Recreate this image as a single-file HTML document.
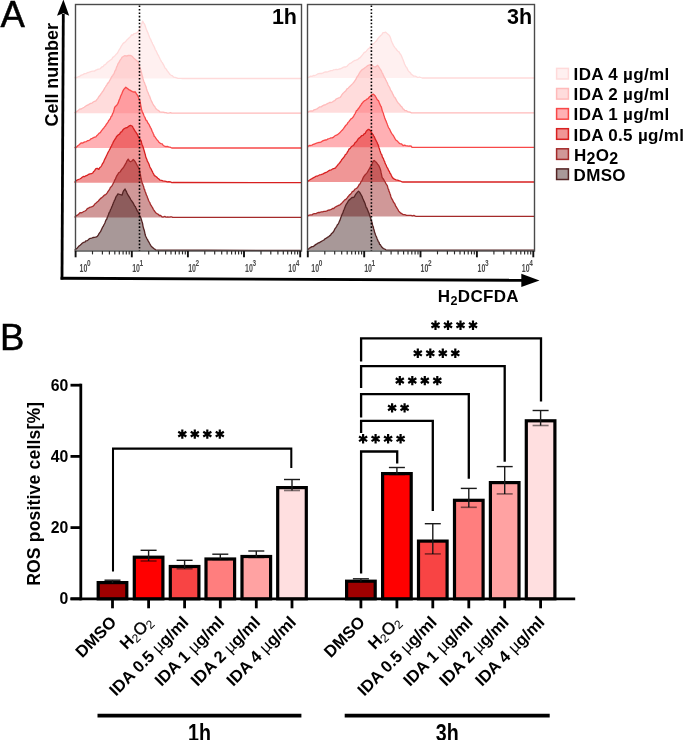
<!DOCTYPE html>
<html><head><meta charset="utf-8"><style>
html,body{margin:0;padding:0;background:#fff;}
body{width:685px;height:740px;overflow:hidden;font-family:"Liberation Sans",sans-serif;}
svg{display:block;filter:blur(0.3px);}
</style></head><body>
<svg width="685" height="740" viewBox="0 0 685 740">
<rect width="685" height="740" fill="#fff"/>
<path d="M75.5,78.5 L75.0,77.4 L77.0,77.5 L78.2,76.7 L79.5,76.5 L80.8,75.3 L82.0,75.0 L83.3,74.4 L84.6,73.6 L86.0,73.6 L87.3,72.7 L88.6,72.5 L90.1,71.8 L91.5,71.4 L93.0,71.2 L94.4,71.1 L95.9,70.1 L97.3,69.5 L98.6,69.2 L100.0,68.9 L101.1,67.8 L102.1,66.8 L103.2,66.5 L104.3,64.8 L105.4,64.7 L106.5,63.3 L107.8,62.1 L109.2,61.0 L110.5,60.0 L111.7,59.3 L112.8,57.4 L114.0,56.6 L115.0,55.7 L115.9,54.6 L116.8,53.8 L117.8,52.5 L118.5,51.0 L119.3,49.7 L120.0,48.7 L120.7,47.3 L121.3,46.1 L122.0,45.2 L122.7,44.0 L123.8,42.8 L124.8,42.3 L125.9,41.2 L127.0,39.8 L127.9,39.1 L128.8,38.1 L129.7,37.4 L130.6,36.3 L131.5,34.9 L132.8,35.0 L134.0,33.7 L135.3,33.4 L136.9,32.8 L138.5,31.3 L139.2,30.1 L139.8,28.1 L140.5,27.2 L141.0,25.8 L141.6,24.3 L142.1,23.1 L142.6,21.2 L143.6,22.9 L144.5,24.1 L145.0,25.3 L145.4,26.5 L145.9,28.1 L146.4,29.5 L146.8,30.3 L147.3,31.7 L147.8,32.5 L148.4,34.3 L148.9,35.6 L149.5,37.2 L150.0,38.3 L150.5,39.0 L151.0,40.3 L151.6,41.8 L152.1,42.4 L152.6,44.0 L153.3,45.1 L154.0,46.5 L154.6,47.8 L155.3,49.8 L156.0,50.7 L156.6,51.9 L157.2,53.2 L157.8,54.8 L158.4,55.3 L159.0,56.8 L159.6,58.0 L160.3,59.5 L161.0,60.7 L161.6,61.9 L162.3,62.6 L163.0,63.9 L163.7,65.1 L164.5,66.9 L165.2,68.2 L166.0,68.7 L166.7,70.0 L167.5,71.1 L168.3,72.1 L169.2,73.4 L170.0,74.5 L171.2,75.2 L172.5,75.9 L173.7,77.2 L175.1,77.4 L176.6,77.8 L178.0,78.4 L179.5,78.3 L181.0,78.3 L182.5,78.5 L301.5,78.5 Z" fill="rgb(255,219,219)" fill-opacity="0.42" stroke="none"/>
<path d="M75.5,78.5 L75.0,77.4 L77.0,77.5 L78.2,76.7 L79.5,76.5 L80.8,75.3 L82.0,75.0 L83.3,74.4 L84.6,73.6 L86.0,73.6 L87.3,72.7 L88.6,72.5 L90.1,71.8 L91.5,71.4 L93.0,71.2 L94.4,71.1 L95.9,70.1 L97.3,69.5 L98.6,69.2 L100.0,68.9 L101.1,67.8 L102.1,66.8 L103.2,66.5 L104.3,64.8 L105.4,64.7 L106.5,63.3 L107.8,62.1 L109.2,61.0 L110.5,60.0 L111.7,59.3 L112.8,57.4 L114.0,56.6 L115.0,55.7 L115.9,54.6 L116.8,53.8 L117.8,52.5 L118.5,51.0 L119.3,49.7 L120.0,48.7 L120.7,47.3 L121.3,46.1 L122.0,45.2 L122.7,44.0 L123.8,42.8 L124.8,42.3 L125.9,41.2 L127.0,39.8 L127.9,39.1 L128.8,38.1 L129.7,37.4 L130.6,36.3 L131.5,34.9 L132.8,35.0 L134.0,33.7 L135.3,33.4 L136.9,32.8 L138.5,31.3 L139.2,30.1 L139.8,28.1 L140.5,27.2 L141.0,25.8 L141.6,24.3 L142.1,23.1 L142.6,21.2 L143.6,22.9 L144.5,24.1 L145.0,25.3 L145.4,26.5 L145.9,28.1 L146.4,29.5 L146.8,30.3 L147.3,31.7 L147.8,32.5 L148.4,34.3 L148.9,35.6 L149.5,37.2 L150.0,38.3 L150.5,39.0 L151.0,40.3 L151.6,41.8 L152.1,42.4 L152.6,44.0 L153.3,45.1 L154.0,46.5 L154.6,47.8 L155.3,49.8 L156.0,50.7 L156.6,51.9 L157.2,53.2 L157.8,54.8 L158.4,55.3 L159.0,56.8 L159.6,58.0 L160.3,59.5 L161.0,60.7 L161.6,61.9 L162.3,62.6 L163.0,63.9 L163.7,65.1 L164.5,66.9 L165.2,68.2 L166.0,68.7 L166.7,70.0 L167.5,71.1 L168.3,72.1 L169.2,73.4 L170.0,74.5 L171.2,75.2 L172.5,75.9 L173.7,77.2 L175.1,77.4 L176.6,77.8 L178.0,78.4 L179.5,78.3 L181.0,78.3 L182.5,78.5 L301.5,78.5" fill="none" stroke="#ffdada" stroke-width="1.3" stroke-linejoin="round"/>
<path d="M75.5,113.2 L75.0,112.6 L76.9,111.4 L78.2,110.6 L79.5,109.1 L81.2,109.0 L82.8,108.0 L84.2,107.2 L85.5,106.3 L87.0,105.3 L88.6,104.6 L90.3,103.5 L92.0,103.1 L93.3,102.0 L94.6,101.3 L95.9,100.8 L96.8,99.6 L97.7,98.6 L98.5,97.2 L99.4,96.0 L100.3,95.0 L101.0,93.8 L101.8,92.9 L102.5,91.4 L103.2,91.0 L103.9,89.6 L104.7,88.0 L105.4,87.0 L106.1,85.9 L106.9,84.8 L107.6,83.4 L108.3,82.9 L109.0,81.9 L109.8,80.3 L110.5,79.2 L111.2,77.7 L111.9,76.5 L112.7,75.6 L113.4,74.3 L114.1,73.7 L114.6,71.8 L115.2,70.5 L115.7,70.0 L116.2,68.4 L116.7,66.8 L117.3,65.9 L117.8,64.2 L118.5,63.1 L119.3,62.0 L120.0,60.3 L121.1,58.8 L122.2,57.1 L123.3,56.5 L124.5,55.7 L126.6,56.0 L128.4,55.5 L130.2,55.4 L131.4,55.9 L132.7,56.8 L133.9,58.3 L136.0,59.9 L137.1,60.9 L138.2,62.0 L138.6,63.3 L138.9,64.5 L139.3,65.3 L139.7,66.8 L140.1,67.9 L140.4,68.9 L140.8,70.2 L141.2,71.7 L141.6,73.0 L141.9,74.6 L142.3,76.1 L142.6,77.0 L143.0,78.7 L143.4,80.0 L143.7,81.2 L144.1,82.0 L144.6,83.1 L145.1,84.5 L145.6,85.7 L146.1,87.0 L146.5,88.7 L147.0,90.3 L147.5,91.5 L148.0,92.5 L148.5,93.9 L149.0,95.3 L149.6,96.0 L150.1,97.8 L150.7,99.3 L151.2,100.4 L151.7,101.7 L152.3,102.7 L152.8,103.7 L153.7,105.4 L154.6,106.2 L155.4,107.8 L156.3,109.1 L157.2,109.8 L158.6,110.6 L160.0,111.9 L161.5,112.1 L163.0,112.1 L164.5,112.5 L166.0,112.6 L167.4,113.2 L168.9,113.2 L170.4,112.7 L171.8,113.2 L173.3,113.2 L301.5,113.2 Z" fill="rgb(255,172,172)" fill-opacity="0.42" stroke="none"/>
<path d="M75.5,113.2 L75.0,112.6 L76.9,111.4 L78.2,110.6 L79.5,109.1 L81.2,109.0 L82.8,108.0 L84.2,107.2 L85.5,106.3 L87.0,105.3 L88.6,104.6 L90.3,103.5 L92.0,103.1 L93.3,102.0 L94.6,101.3 L95.9,100.8 L96.8,99.6 L97.7,98.6 L98.5,97.2 L99.4,96.0 L100.3,95.0 L101.0,93.8 L101.8,92.9 L102.5,91.4 L103.2,91.0 L103.9,89.6 L104.7,88.0 L105.4,87.0 L106.1,85.9 L106.9,84.8 L107.6,83.4 L108.3,82.9 L109.0,81.9 L109.8,80.3 L110.5,79.2 L111.2,77.7 L111.9,76.5 L112.7,75.6 L113.4,74.3 L114.1,73.7 L114.6,71.8 L115.2,70.5 L115.7,70.0 L116.2,68.4 L116.7,66.8 L117.3,65.9 L117.8,64.2 L118.5,63.1 L119.3,62.0 L120.0,60.3 L121.1,58.8 L122.2,57.1 L123.3,56.5 L124.5,55.7 L126.6,56.0 L128.4,55.5 L130.2,55.4 L131.4,55.9 L132.7,56.8 L133.9,58.3 L136.0,59.9 L137.1,60.9 L138.2,62.0 L138.6,63.3 L138.9,64.5 L139.3,65.3 L139.7,66.8 L140.1,67.9 L140.4,68.9 L140.8,70.2 L141.2,71.7 L141.6,73.0 L141.9,74.6 L142.3,76.1 L142.6,77.0 L143.0,78.7 L143.4,80.0 L143.7,81.2 L144.1,82.0 L144.6,83.1 L145.1,84.5 L145.6,85.7 L146.1,87.0 L146.5,88.7 L147.0,90.3 L147.5,91.5 L148.0,92.5 L148.5,93.9 L149.0,95.3 L149.6,96.0 L150.1,97.8 L150.7,99.3 L151.2,100.4 L151.7,101.7 L152.3,102.7 L152.8,103.7 L153.7,105.4 L154.6,106.2 L155.4,107.8 L156.3,109.1 L157.2,109.8 L158.6,110.6 L160.0,111.9 L161.5,112.1 L163.0,112.1 L164.5,112.5 L166.0,112.6 L167.4,113.2 L168.9,113.2 L170.4,112.7 L171.8,113.2 L173.3,113.2 L301.5,113.2" fill="none" stroke="#ffbaba" stroke-width="1.3" stroke-linejoin="round"/>
<path d="M75.5,148.0 L75.0,147.5 L76.0,147.6 L77.1,146.5 L78.1,145.5 L79.2,144.8 L80.2,143.7 L81.3,142.8 L82.5,143.1 L83.7,142.4 L84.9,141.8 L86.2,141.7 L87.4,140.7 L88.6,140.6 L89.8,140.0 L91.0,138.8 L92.2,138.3 L93.5,137.7 L94.7,137.1 L95.9,136.8 L97.0,135.4 L98.1,134.4 L99.2,133.1 L100.3,132.7 L101.2,131.1 L102.0,130.1 L102.8,129.1 L103.7,128.3 L104.6,126.7 L105.4,126.1 L106.2,124.5 L107.1,123.3 L108.0,122.1 L108.8,120.4 L109.7,119.6 L110.5,118.1 L111.1,116.6 L111.8,116.0 L112.4,114.1 L113.0,113.0 L113.5,111.7 L114.0,110.0 L114.4,108.3 L114.9,106.9 L115.9,106.0 L116.8,105.2 L117.8,103.6 L118.3,102.6 L118.9,100.8 L119.5,99.3 L120.0,98.2 L120.5,96.6 L121.1,95.2 L121.7,94.0 L122.2,92.7 L123.1,90.6 L124.0,89.1 L125.8,87.2 L127.5,88.5 L128.7,89.6 L129.9,90.1 L131.2,90.9 L132.4,91.6 L133.9,92.0 L135.3,91.8 L136.0,93.2 L136.8,94.5 L137.5,95.2 L138.2,96.8 L138.8,98.5 L139.4,99.9 L140.0,100.7 L140.2,102.1 L140.5,103.9 L140.7,105.1 L141.0,106.7 L141.2,108.0 L141.7,110.0 L142.2,111.5 L142.8,113.0 L143.3,113.7 L143.9,115.4 L144.4,116.5 L144.9,117.3 L145.5,119.1 L146.2,120.4 L147.0,120.9 L147.7,122.8 L148.4,123.5 L149.2,124.8 L149.9,126.4 L150.5,127.6 L151.0,128.3 L151.6,129.8 L152.1,131.2 L152.7,132.3 L153.2,133.5 L153.8,134.8 L154.3,136.5 L155.2,137.0 L156.1,138.7 L156.9,139.7 L157.8,140.5 L158.7,141.9 L159.9,143.0 L161.0,143.6 L162.2,143.9 L163.3,145.5 L164.5,146.1 L165.9,146.7 L167.2,146.3 L168.6,146.9 L170.0,147.2 L171.7,148.0 L173.3,148.0 L301.5,148.0 Z" fill="rgb(255,67,76)" fill-opacity="0.42" stroke="none"/>
<path d="M75.5,148.0 L75.0,147.5 L76.0,147.6 L77.1,146.5 L78.1,145.5 L79.2,144.8 L80.2,143.7 L81.3,142.8 L82.5,143.1 L83.7,142.4 L84.9,141.8 L86.2,141.7 L87.4,140.7 L88.6,140.6 L89.8,140.0 L91.0,138.8 L92.2,138.3 L93.5,137.7 L94.7,137.1 L95.9,136.8 L97.0,135.4 L98.1,134.4 L99.2,133.1 L100.3,132.7 L101.2,131.1 L102.0,130.1 L102.8,129.1 L103.7,128.3 L104.6,126.7 L105.4,126.1 L106.2,124.5 L107.1,123.3 L108.0,122.1 L108.8,120.4 L109.7,119.6 L110.5,118.1 L111.1,116.6 L111.8,116.0 L112.4,114.1 L113.0,113.0 L113.5,111.7 L114.0,110.0 L114.4,108.3 L114.9,106.9 L115.9,106.0 L116.8,105.2 L117.8,103.6 L118.3,102.6 L118.9,100.8 L119.5,99.3 L120.0,98.2 L120.5,96.6 L121.1,95.2 L121.7,94.0 L122.2,92.7 L123.1,90.6 L124.0,89.1 L125.8,87.2 L127.5,88.5 L128.7,89.6 L129.9,90.1 L131.2,90.9 L132.4,91.6 L133.9,92.0 L135.3,91.8 L136.0,93.2 L136.8,94.5 L137.5,95.2 L138.2,96.8 L138.8,98.5 L139.4,99.9 L140.0,100.7 L140.2,102.1 L140.5,103.9 L140.7,105.1 L141.0,106.7 L141.2,108.0 L141.7,110.0 L142.2,111.5 L142.8,113.0 L143.3,113.7 L143.9,115.4 L144.4,116.5 L144.9,117.3 L145.5,119.1 L146.2,120.4 L147.0,120.9 L147.7,122.8 L148.4,123.5 L149.2,124.8 L149.9,126.4 L150.5,127.6 L151.0,128.3 L151.6,129.8 L152.1,131.2 L152.7,132.3 L153.2,133.5 L153.8,134.8 L154.3,136.5 L155.2,137.0 L156.1,138.7 L156.9,139.7 L157.8,140.5 L158.7,141.9 L159.9,143.0 L161.0,143.6 L162.2,143.9 L163.3,145.5 L164.5,146.1 L165.9,146.7 L167.2,146.3 L168.6,146.9 L170.0,147.2 L171.7,148.0 L173.3,148.0 L301.5,148.0" fill="none" stroke="#f84848" stroke-width="1.3" stroke-linejoin="round"/>
<path d="M75.5,182.7 L75.0,182.0 L75.5,181.3 L76.9,180.2 L78.4,179.5 L79.8,179.0 L81.0,178.3 L82.2,177.2 L83.3,176.5 L84.5,176.7 L85.7,175.8 L87.1,175.4 L88.6,174.3 L90.0,173.8 L91.5,173.7 L93.0,172.7 L93.7,171.3 L94.5,171.0 L95.2,169.6 L95.9,168.7 L97.3,168.4 L98.8,169.4 L99.8,167.5 L100.7,167.0 L101.7,165.5 L102.3,164.1 L102.9,163.1 L103.6,162.2 L104.2,160.4 L104.8,159.1 L105.4,158.2 L106.0,156.7 L106.6,155.4 L107.2,154.2 L107.8,152.9 L108.4,151.8 L109.0,150.7 L109.6,149.5 L110.2,148.7 L110.8,147.1 L111.5,146.0 L112.1,144.5 L112.7,143.5 L113.4,141.8 L114.1,140.7 L114.9,139.2 L115.6,138.5 L116.3,137.0 L117.4,135.6 L118.5,134.8 L119.6,134.1 L120.7,132.2 L121.6,131.8 L122.6,130.3 L123.5,129.3 L124.4,128.5 L125.8,127.8 L127.3,127.5 L128.4,126.6 L129.5,125.7 L130.9,125.5 L132.4,126.3 L133.1,127.7 L133.9,129.1 L134.6,130.3 L135.3,131.4 L136.0,132.4 L136.8,133.6 L137.5,134.7 L138.2,136.5 L139.1,137.7 L140.0,139.2 L141.2,141.0 L141.6,143.0 L142.0,144.4 L142.5,145.5 L142.9,146.5 L143.3,147.8 L143.7,149.1 L144.1,150.5 L144.4,151.5 L144.8,153.1 L145.2,154.2 L145.6,156.1 L145.9,157.4 L146.3,158.2 L146.8,159.2 L147.3,161.1 L147.8,161.8 L148.4,163.0 L148.9,164.0 L149.4,165.6 L149.9,166.9 L150.5,168.2 L151.2,169.1 L151.8,170.7 L152.4,171.5 L153.0,173.0 L153.7,174.1 L154.3,175.6 L155.5,176.2 L156.6,177.0 L157.8,178.2 L158.9,179.0 L160.1,180.2 L161.6,180.4 L163.0,180.9 L164.5,181.1 L165.9,181.4 L167.4,181.8 L168.9,181.6 L170.4,181.8 L171.8,182.6 L173.3,182.4 L301.5,182.7 Z" fill="rgb(219,5,5)" fill-opacity="0.42" stroke="none"/>
<path d="M75.5,182.7 L75.0,182.0 L75.5,181.3 L76.9,180.2 L78.4,179.5 L79.8,179.0 L81.0,178.3 L82.2,177.2 L83.3,176.5 L84.5,176.7 L85.7,175.8 L87.1,175.4 L88.6,174.3 L90.0,173.8 L91.5,173.7 L93.0,172.7 L93.7,171.3 L94.5,171.0 L95.2,169.6 L95.9,168.7 L97.3,168.4 L98.8,169.4 L99.8,167.5 L100.7,167.0 L101.7,165.5 L102.3,164.1 L102.9,163.1 L103.6,162.2 L104.2,160.4 L104.8,159.1 L105.4,158.2 L106.0,156.7 L106.6,155.4 L107.2,154.2 L107.8,152.9 L108.4,151.8 L109.0,150.7 L109.6,149.5 L110.2,148.7 L110.8,147.1 L111.5,146.0 L112.1,144.5 L112.7,143.5 L113.4,141.8 L114.1,140.7 L114.9,139.2 L115.6,138.5 L116.3,137.0 L117.4,135.6 L118.5,134.8 L119.6,134.1 L120.7,132.2 L121.6,131.8 L122.6,130.3 L123.5,129.3 L124.4,128.5 L125.8,127.8 L127.3,127.5 L128.4,126.6 L129.5,125.7 L130.9,125.5 L132.4,126.3 L133.1,127.7 L133.9,129.1 L134.6,130.3 L135.3,131.4 L136.0,132.4 L136.8,133.6 L137.5,134.7 L138.2,136.5 L139.1,137.7 L140.0,139.2 L141.2,141.0 L141.6,143.0 L142.0,144.4 L142.5,145.5 L142.9,146.5 L143.3,147.8 L143.7,149.1 L144.1,150.5 L144.4,151.5 L144.8,153.1 L145.2,154.2 L145.6,156.1 L145.9,157.4 L146.3,158.2 L146.8,159.2 L147.3,161.1 L147.8,161.8 L148.4,163.0 L148.9,164.0 L149.4,165.6 L149.9,166.9 L150.5,168.2 L151.2,169.1 L151.8,170.7 L152.4,171.5 L153.0,173.0 L153.7,174.1 L154.3,175.6 L155.5,176.2 L156.6,177.0 L157.8,178.2 L158.9,179.0 L160.1,180.2 L161.6,180.4 L163.0,180.9 L164.5,181.1 L165.9,181.4 L167.4,181.8 L168.9,181.6 L170.4,181.8 L171.8,182.6 L173.3,182.4 L301.5,182.7" fill="none" stroke="#d82020" stroke-width="1.3" stroke-linejoin="round"/>
<path d="M75.5,217.4 L75.0,217.0 L76.2,215.7 L77.5,215.2 L78.8,214.1 L80.0,212.6 L81.2,212.8 L82.5,212.3 L83.8,211.5 L85.0,211.0 L86.2,210.2 L87.3,208.7 L88.5,208.2 L89.7,207.3 L91.5,206.9 L93.2,206.1 L94.2,205.0 L95.1,203.7 L96.1,203.0 L97.2,201.9 L98.4,201.0 L99.4,199.7 L100.4,198.6 L101.4,197.9 L102.8,196.8 L104.3,195.2 L105.7,194.6 L107.0,193.1 L107.7,192.0 L108.5,190.9 L109.2,189.9 L109.9,188.6 L110.6,187.1 L111.3,186.7 L112.1,185.6 L112.8,184.3 L113.4,183.0 L114.1,181.9 L114.7,180.0 L115.3,179.4 L116.0,177.6 L116.6,176.2 L117.3,175.1 L117.9,174.2 L118.8,172.7 L119.6,172.2 L120.5,171.4 L121.3,170.0 L122.2,168.9 L123.0,168.0 L123.8,166.9 L124.5,165.7 L125.2,164.4 L126.0,163.1 L126.7,161.4 L127.5,160.2 L128.2,159.1 L129.3,160.9 L130.5,161.8 L131.9,161.0 L133.3,159.4 L134.2,160.5 L135.1,161.7 L136.0,163.2 L136.7,164.5 L137.4,165.8 L138.0,166.7 L138.7,168.2 L139.4,169.5 L139.7,170.8 L139.9,171.8 L140.2,173.9 L140.4,174.6 L140.7,176.6 L140.9,177.9 L141.2,178.4 L141.4,180.2 L141.9,181.9 L142.3,183.4 L142.8,184.3 L143.2,185.5 L143.7,186.8 L144.1,188.8 L144.6,189.5 L145.0,191.2 L145.5,192.2 L146.0,193.8 L146.5,195.4 L147.0,195.9 L147.5,197.8 L148.0,198.8 L148.5,200.3 L149.1,201.5 L149.8,202.5 L150.4,204.4 L151.1,205.4 L151.7,206.4 L152.5,207.6 L153.3,209.3 L154.1,210.5 L154.9,211.6 L155.7,212.7 L156.9,213.6 L158.2,214.3 L159.4,215.5 L160.7,215.4 L161.9,216.8 L163.3,217.0 L164.8,216.4 L166.2,217.2 L167.7,217.0 L169.1,217.2 L170.6,216.8 L172.0,216.9 L172.5,217.4 L301.5,217.4 Z" fill="rgb(143,10,10)" fill-opacity="0.42" stroke="none"/>
<path d="M75.5,217.4 L75.0,217.0 L76.2,215.7 L77.5,215.2 L78.8,214.1 L80.0,212.6 L81.2,212.8 L82.5,212.3 L83.8,211.5 L85.0,211.0 L86.2,210.2 L87.3,208.7 L88.5,208.2 L89.7,207.3 L91.5,206.9 L93.2,206.1 L94.2,205.0 L95.1,203.7 L96.1,203.0 L97.2,201.9 L98.4,201.0 L99.4,199.7 L100.4,198.6 L101.4,197.9 L102.8,196.8 L104.3,195.2 L105.7,194.6 L107.0,193.1 L107.7,192.0 L108.5,190.9 L109.2,189.9 L109.9,188.6 L110.6,187.1 L111.3,186.7 L112.1,185.6 L112.8,184.3 L113.4,183.0 L114.1,181.9 L114.7,180.0 L115.3,179.4 L116.0,177.6 L116.6,176.2 L117.3,175.1 L117.9,174.2 L118.8,172.7 L119.6,172.2 L120.5,171.4 L121.3,170.0 L122.2,168.9 L123.0,168.0 L123.8,166.9 L124.5,165.7 L125.2,164.4 L126.0,163.1 L126.7,161.4 L127.5,160.2 L128.2,159.1 L129.3,160.9 L130.5,161.8 L131.9,161.0 L133.3,159.4 L134.2,160.5 L135.1,161.7 L136.0,163.2 L136.7,164.5 L137.4,165.8 L138.0,166.7 L138.7,168.2 L139.4,169.5 L139.7,170.8 L139.9,171.8 L140.2,173.9 L140.4,174.6 L140.7,176.6 L140.9,177.9 L141.2,178.4 L141.4,180.2 L141.9,181.9 L142.3,183.4 L142.8,184.3 L143.2,185.5 L143.7,186.8 L144.1,188.8 L144.6,189.5 L145.0,191.2 L145.5,192.2 L146.0,193.8 L146.5,195.4 L147.0,195.9 L147.5,197.8 L148.0,198.8 L148.5,200.3 L149.1,201.5 L149.8,202.5 L150.4,204.4 L151.1,205.4 L151.7,206.4 L152.5,207.6 L153.3,209.3 L154.1,210.5 L154.9,211.6 L155.7,212.7 L156.9,213.6 L158.2,214.3 L159.4,215.5 L160.7,215.4 L161.9,216.8 L163.3,217.0 L164.8,216.4 L166.2,217.2 L167.7,217.0 L169.1,217.2 L170.6,216.8 L172.0,216.9 L172.5,217.4 L301.5,217.4" fill="none" stroke="#a42a2a" stroke-width="1.3" stroke-linejoin="round"/>
<path d="M75.5,250.5 L75.0,250.0 L76.0,248.9 L77.0,248.4 L78.0,247.1 L79.0,246.0 L80.1,245.2 L81.2,244.2 L82.2,243.2 L83.5,242.4 L84.7,242.2 L86.0,240.8 L87.4,240.6 L88.9,239.1 L90.3,238.3 L91.7,238.1 L93.0,237.5 L94.4,237.3 L95.8,237.2 L97.3,236.4 L98.2,235.1 L99.0,233.6 L99.9,232.5 L100.8,231.2 L101.4,229.7 L102.0,228.7 L102.6,226.9 L103.2,226.4 L103.8,225.0 L104.4,224.0 L105.0,222.7 L105.5,221.2 L106.1,219.8 L106.7,219.4 L107.3,217.3 L107.8,216.2 L108.4,214.7 L108.9,213.2 L109.5,212.2 L110.0,211.2 L110.6,209.4 L111.2,208.5 L111.7,207.0 L112.2,206.0 L112.8,204.6 L113.3,203.1 L113.9,201.7 L114.4,200.4 L115.0,199.7 L115.5,198.0 L116.3,196.2 L117.1,195.4 L117.9,193.9 L120.0,194.5 L122.0,195.2 L122.5,193.7 L123.0,192.1 L123.5,190.9 L125.1,189.0 L125.7,190.4 L126.4,191.6 L127.0,193.1 L127.8,194.7 L128.6,196.0 L129.4,197.1 L130.2,198.5 L130.9,199.8 L131.7,200.8 L132.4,202.0 L133.1,202.9 L133.8,204.3 L134.6,206.0 L135.3,206.5 L136.0,208.1 L136.7,209.5 L137.3,211.0 L138.0,211.7 L138.7,213.2 L139.4,214.6 L140.0,216.1 L140.7,217.6 L141.4,219.4 L141.7,220.6 L142.0,221.9 L142.3,222.4 L142.6,223.7 L142.9,225.6 L143.2,227.1 L143.5,228.0 L143.9,229.6 L144.3,230.5 L144.7,232.3 L145.1,234.3 L145.5,235.7 L146.1,237.1 L146.8,238.6 L147.4,239.4 L148.0,240.6 L148.7,241.8 L149.5,243.3 L150.2,244.5 L151.0,245.9 L151.7,246.8 L152.7,247.6 L153.7,248.5 L154.7,249.1 L155.7,250.0 L301.5,250.5 Z" fill="rgb(48,10,10)" fill-opacity="0.42" stroke="none"/>
<path d="M75.5,250.5 L75.0,250.0 L76.0,248.9 L77.0,248.4 L78.0,247.1 L79.0,246.0 L80.1,245.2 L81.2,244.2 L82.2,243.2 L83.5,242.4 L84.7,242.2 L86.0,240.8 L87.4,240.6 L88.9,239.1 L90.3,238.3 L91.7,238.1 L93.0,237.5 L94.4,237.3 L95.8,237.2 L97.3,236.4 L98.2,235.1 L99.0,233.6 L99.9,232.5 L100.8,231.2 L101.4,229.7 L102.0,228.7 L102.6,226.9 L103.2,226.4 L103.8,225.0 L104.4,224.0 L105.0,222.7 L105.5,221.2 L106.1,219.8 L106.7,219.4 L107.3,217.3 L107.8,216.2 L108.4,214.7 L108.9,213.2 L109.5,212.2 L110.0,211.2 L110.6,209.4 L111.2,208.5 L111.7,207.0 L112.2,206.0 L112.8,204.6 L113.3,203.1 L113.9,201.7 L114.4,200.4 L115.0,199.7 L115.5,198.0 L116.3,196.2 L117.1,195.4 L117.9,193.9 L120.0,194.5 L122.0,195.2 L122.5,193.7 L123.0,192.1 L123.5,190.9 L125.1,189.0 L125.7,190.4 L126.4,191.6 L127.0,193.1 L127.8,194.7 L128.6,196.0 L129.4,197.1 L130.2,198.5 L130.9,199.8 L131.7,200.8 L132.4,202.0 L133.1,202.9 L133.8,204.3 L134.6,206.0 L135.3,206.5 L136.0,208.1 L136.7,209.5 L137.3,211.0 L138.0,211.7 L138.7,213.2 L139.4,214.6 L140.0,216.1 L140.7,217.6 L141.4,219.4 L141.7,220.6 L142.0,221.9 L142.3,222.4 L142.6,223.7 L142.9,225.6 L143.2,227.1 L143.5,228.0 L143.9,229.6 L144.3,230.5 L144.7,232.3 L145.1,234.3 L145.5,235.7 L146.1,237.1 L146.8,238.6 L147.4,239.4 L148.0,240.6 L148.7,241.8 L149.5,243.3 L150.2,244.5 L151.0,245.9 L151.7,246.8 L152.7,247.6 L153.7,248.5 L154.7,249.1 L155.7,250.0 L301.5,250.5" fill="none" stroke="#552424" stroke-width="1.3" stroke-linejoin="round"/>
<rect x="75.5" y="4.5" width="226.0" height="246.5" fill="none" stroke="#4a4a4a" stroke-width="1.4"/>
<line x1="92.5" y1="251" x2="92.5" y2="254.4" stroke="#2a2a2a" stroke-width="1.15"/>
<line x1="102.4" y1="251" x2="102.4" y2="254.4" stroke="#2a2a2a" stroke-width="1.15"/>
<line x1="109.4" y1="251" x2="109.4" y2="254.4" stroke="#2a2a2a" stroke-width="1.15"/>
<line x1="114.8" y1="251" x2="114.8" y2="254.4" stroke="#2a2a2a" stroke-width="1.15"/>
<line x1="119.3" y1="251" x2="119.3" y2="254.4" stroke="#2a2a2a" stroke-width="1.15"/>
<line x1="123.1" y1="251" x2="123.1" y2="254.4" stroke="#2a2a2a" stroke-width="1.15"/>
<line x1="126.3" y1="251" x2="126.3" y2="254.4" stroke="#2a2a2a" stroke-width="1.15"/>
<line x1="129.2" y1="251" x2="129.2" y2="254.4" stroke="#2a2a2a" stroke-width="1.15"/>
<line x1="148.7" y1="251" x2="148.7" y2="254.4" stroke="#2a2a2a" stroke-width="1.15"/>
<line x1="158.5" y1="251" x2="158.5" y2="254.4" stroke="#2a2a2a" stroke-width="1.15"/>
<line x1="165.6" y1="251" x2="165.6" y2="254.4" stroke="#2a2a2a" stroke-width="1.15"/>
<line x1="171.0" y1="251" x2="171.0" y2="254.4" stroke="#2a2a2a" stroke-width="1.15"/>
<line x1="175.4" y1="251" x2="175.4" y2="254.4" stroke="#2a2a2a" stroke-width="1.15"/>
<line x1="179.2" y1="251" x2="179.2" y2="254.4" stroke="#2a2a2a" stroke-width="1.15"/>
<line x1="182.5" y1="251" x2="182.5" y2="254.4" stroke="#2a2a2a" stroke-width="1.15"/>
<line x1="185.3" y1="251" x2="185.3" y2="254.4" stroke="#2a2a2a" stroke-width="1.15"/>
<line x1="204.8" y1="251" x2="204.8" y2="254.4" stroke="#2a2a2a" stroke-width="1.15"/>
<line x1="214.7" y1="251" x2="214.7" y2="254.4" stroke="#2a2a2a" stroke-width="1.15"/>
<line x1="221.7" y1="251" x2="221.7" y2="254.4" stroke="#2a2a2a" stroke-width="1.15"/>
<line x1="227.1" y1="251" x2="227.1" y2="254.4" stroke="#2a2a2a" stroke-width="1.15"/>
<line x1="231.6" y1="251" x2="231.6" y2="254.4" stroke="#2a2a2a" stroke-width="1.15"/>
<line x1="235.4" y1="251" x2="235.4" y2="254.4" stroke="#2a2a2a" stroke-width="1.15"/>
<line x1="238.6" y1="251" x2="238.6" y2="254.4" stroke="#2a2a2a" stroke-width="1.15"/>
<line x1="241.5" y1="251" x2="241.5" y2="254.4" stroke="#2a2a2a" stroke-width="1.15"/>
<line x1="261.0" y1="251" x2="261.0" y2="254.4" stroke="#2a2a2a" stroke-width="1.15"/>
<line x1="270.8" y1="251" x2="270.8" y2="254.4" stroke="#2a2a2a" stroke-width="1.15"/>
<line x1="277.9" y1="251" x2="277.9" y2="254.4" stroke="#2a2a2a" stroke-width="1.15"/>
<line x1="283.3" y1="251" x2="283.3" y2="254.4" stroke="#2a2a2a" stroke-width="1.15"/>
<line x1="287.7" y1="251" x2="287.7" y2="254.4" stroke="#2a2a2a" stroke-width="1.15"/>
<line x1="291.5" y1="251" x2="291.5" y2="254.4" stroke="#2a2a2a" stroke-width="1.15"/>
<line x1="294.8" y1="251" x2="294.8" y2="254.4" stroke="#2a2a2a" stroke-width="1.15"/>
<line x1="297.6" y1="251" x2="297.6" y2="254.4" stroke="#2a2a2a" stroke-width="1.15"/>
<line x1="75.6" y1="251" x2="75.6" y2="257.3" stroke="#111" stroke-width="1.9"/>
<line x1="131.8" y1="251" x2="131.8" y2="257.3" stroke="#111" stroke-width="1.9"/>
<line x1="187.9" y1="251" x2="187.9" y2="257.3" stroke="#111" stroke-width="1.9"/>
<line x1="244.0" y1="251" x2="244.0" y2="257.3" stroke="#111" stroke-width="1.9"/>
<line x1="300.2" y1="251" x2="300.2" y2="257.3" stroke="#111" stroke-width="1.9"/>
<g transform="translate(79.6,272.2) scale(0.70,1)" fill="#4a4a4a" font-family="Liberation Sans" font-weight="bold" font-size="10"><text x="0" y="0">10</text><text x="10.6" y="-5.8" font-size="9.3">0</text></g>
<g transform="translate(132.2,272.2) scale(0.70,1)" fill="#4a4a4a" font-family="Liberation Sans" font-weight="bold" font-size="10"><text x="0" y="0">10</text><text x="10.6" y="-5.8" font-size="9.3">1</text></g>
<g transform="translate(188.2,272.2) scale(0.70,1)" fill="#4a4a4a" font-family="Liberation Sans" font-weight="bold" font-size="10"><text x="0" y="0">10</text><text x="10.6" y="-5.8" font-size="9.3">2</text></g>
<g transform="translate(245,272.2) scale(0.70,1)" fill="#4a4a4a" font-family="Liberation Sans" font-weight="bold" font-size="10"><text x="0" y="0">10</text><text x="10.6" y="-5.8" font-size="9.3">3</text></g>
<g transform="translate(288.3,272.2) scale(0.70,1)" fill="#4a4a4a" font-family="Liberation Sans" font-weight="bold" font-size="10"><text x="0" y="0">10</text><text x="10.6" y="-5.8" font-size="9.3">4</text></g>
<text x="297.0" y="23.6" text-anchor="end" font-family="Liberation Sans" font-weight="bold" font-size="21.5">1h</text>
<path d="M307.5,78.0 L308.0,77.4 L309.3,77.0 L310.7,76.1 L312.0,76.4 L313.3,75.4 L314.6,75.6 L316.0,75.0 L317.3,74.2 L318.7,73.7 L320.0,73.5 L321.4,73.5 L322.7,73.2 L324.1,72.3 L325.4,71.9 L326.8,72.0 L328.1,71.7 L329.5,71.2 L330.9,70.7 L332.2,70.7 L333.6,69.8 L335.0,69.7 L336.3,69.5 L337.7,69.6 L339.1,69.0 L340.4,68.9 L341.8,68.2 L343.1,67.4 L344.4,66.9 L345.7,67.0 L347.0,66.2 L348.2,64.9 L349.5,63.6 L350.8,63.1 L352.0,62.3 L353.3,61.3 L354.7,60.5 L356.0,60.2 L357.4,59.7 L358.8,58.4 L360.2,57.6 L361.1,56.5 L362.1,55.3 L363.0,54.2 L364.1,52.7 L365.2,52.2 L366.3,51.1 L367.3,49.9 L368.4,48.6 L369.4,48.2 L370.4,46.6 L371.4,46.1 L372.4,44.5 L373.5,43.5 L374.5,43.0 L375.5,41.5 L376.4,41.1 L377.2,39.6 L378.1,38.3 L378.9,37.3 L379.8,36.5 L380.6,35.6 L381.8,34.7 L383.0,32.7 L384.4,32.7 L385.7,32.2 L387.5,33.9 L388.6,34.7 L389.8,36.2 L390.4,37.6 L390.9,39.2 L391.4,41.0 L392.0,42.3 L392.7,43.7 L393.4,45.3 L394.2,46.7 L394.9,47.6 L395.9,48.6 L397.0,50.3 L398.0,51.2 L399.0,51.9 L400.0,53.8 L401.0,54.9 L401.5,56.1 L402.0,57.3 L402.5,58.5 L403.0,59.6 L403.5,61.1 L404.1,62.5 L404.6,64.3 L405.1,64.9 L405.8,66.8 L406.6,67.3 L407.3,68.7 L408.0,70.3 L408.8,71.4 L409.6,72.1 L410.5,72.9 L411.3,74.4 L412.5,75.0 L413.8,76.2 L415.0,76.2 L416.5,76.7 L417.9,77.5 L419.4,77.0 L420.8,77.5 L422.2,78.0 L423.6,78.0 L425.0,78.0 L534.5,78.0 Z" fill="rgb(255,219,219)" fill-opacity="0.42" stroke="none"/>
<path d="M307.5,78.0 L308.0,77.4 L309.3,77.0 L310.7,76.1 L312.0,76.4 L313.3,75.4 L314.6,75.6 L316.0,75.0 L317.3,74.2 L318.7,73.7 L320.0,73.5 L321.4,73.5 L322.7,73.2 L324.1,72.3 L325.4,71.9 L326.8,72.0 L328.1,71.7 L329.5,71.2 L330.9,70.7 L332.2,70.7 L333.6,69.8 L335.0,69.7 L336.3,69.5 L337.7,69.6 L339.1,69.0 L340.4,68.9 L341.8,68.2 L343.1,67.4 L344.4,66.9 L345.7,67.0 L347.0,66.2 L348.2,64.9 L349.5,63.6 L350.8,63.1 L352.0,62.3 L353.3,61.3 L354.7,60.5 L356.0,60.2 L357.4,59.7 L358.8,58.4 L360.2,57.6 L361.1,56.5 L362.1,55.3 L363.0,54.2 L364.1,52.7 L365.2,52.2 L366.3,51.1 L367.3,49.9 L368.4,48.6 L369.4,48.2 L370.4,46.6 L371.4,46.1 L372.4,44.5 L373.5,43.5 L374.5,43.0 L375.5,41.5 L376.4,41.1 L377.2,39.6 L378.1,38.3 L378.9,37.3 L379.8,36.5 L380.6,35.6 L381.8,34.7 L383.0,32.7 L384.4,32.7 L385.7,32.2 L387.5,33.9 L388.6,34.7 L389.8,36.2 L390.4,37.6 L390.9,39.2 L391.4,41.0 L392.0,42.3 L392.7,43.7 L393.4,45.3 L394.2,46.7 L394.9,47.6 L395.9,48.6 L397.0,50.3 L398.0,51.2 L399.0,51.9 L400.0,53.8 L401.0,54.9 L401.5,56.1 L402.0,57.3 L402.5,58.5 L403.0,59.6 L403.5,61.1 L404.1,62.5 L404.6,64.3 L405.1,64.9 L405.8,66.8 L406.6,67.3 L407.3,68.7 L408.0,70.3 L408.8,71.4 L409.6,72.1 L410.5,72.9 L411.3,74.4 L412.5,75.0 L413.8,76.2 L415.0,76.2 L416.5,76.7 L417.9,77.5 L419.4,77.0 L420.8,77.5 L422.2,78.0 L423.6,78.0 L425.0,78.0 L534.5,78.0" fill="none" stroke="#ffdada" stroke-width="1.3" stroke-linejoin="round"/>
<path d="M307.5,112.8 L308.0,112.3 L308.5,111.6 L309.8,111.2 L311.2,110.8 L312.5,111.2 L314.0,109.8 L315.5,109.5 L317.0,108.9 L318.4,107.7 L319.8,106.9 L321.1,106.9 L322.5,105.9 L324.0,105.0 L325.5,104.8 L327.0,103.8 L328.4,103.2 L329.9,102.4 L331.3,102.5 L332.5,102.0 L333.6,101.0 L334.8,100.6 L336.0,99.1 L337.3,98.5 L338.7,97.9 L340.0,97.5 L340.9,96.5 L341.8,94.9 L342.6,93.8 L343.5,92.9 L344.7,91.7 L345.8,90.9 L347.0,88.9 L348.2,88.2 L349.3,86.9 L350.5,85.8 L351.7,84.6 L352.9,83.4 L354.1,82.0 L354.8,80.9 L355.5,79.8 L356.1,79.0 L356.8,77.3 L357.5,76.2 L358.2,75.6 L358.9,74.0 L359.7,72.7 L360.4,71.5 L361.1,70.8 L362.3,69.5 L363.5,68.9 L364.9,67.8 L366.3,66.8 L367.6,65.7 L369.0,65.1 L370.3,64.7 L371.6,64.7 L372.6,65.8 L373.5,66.5 L375.1,67.1 L376.4,66.2 L377.7,65.3 L378.5,66.5 L379.2,67.6 L380.0,68.8 L380.7,70.0 L381.4,70.9 L382.1,72.9 L382.7,73.6 L383.3,75.1 L383.9,76.2 L384.5,77.7 L385.2,78.6 L385.9,80.1 L386.6,81.5 L387.3,82.8 L388.0,84.8 L388.6,85.9 L389.3,87.0 L390.0,88.4 L390.6,90.2 L391.3,91.1 L392.0,92.1 L392.6,93.9 L393.4,95.2 L394.2,97.0 L395.0,97.6 L396.0,99.4 L396.9,101.2 L397.9,102.6 L398.7,103.7 L399.4,104.0 L400.2,105.3 L401.0,106.2 L402.0,107.1 L402.9,108.8 L403.9,109.3 L404.9,110.6 L406.2,110.6 L407.5,111.6 L408.8,111.8 L410.1,112.2 L411.4,112.8 L412.7,112.8 L414.0,112.8 L534.5,112.8 Z" fill="rgb(255,172,172)" fill-opacity="0.42" stroke="none"/>
<path d="M307.5,112.8 L308.0,112.3 L308.5,111.6 L309.8,111.2 L311.2,110.8 L312.5,111.2 L314.0,109.8 L315.5,109.5 L317.0,108.9 L318.4,107.7 L319.8,106.9 L321.1,106.9 L322.5,105.9 L324.0,105.0 L325.5,104.8 L327.0,103.8 L328.4,103.2 L329.9,102.4 L331.3,102.5 L332.5,102.0 L333.6,101.0 L334.8,100.6 L336.0,99.1 L337.3,98.5 L338.7,97.9 L340.0,97.5 L340.9,96.5 L341.8,94.9 L342.6,93.8 L343.5,92.9 L344.7,91.7 L345.8,90.9 L347.0,88.9 L348.2,88.2 L349.3,86.9 L350.5,85.8 L351.7,84.6 L352.9,83.4 L354.1,82.0 L354.8,80.9 L355.5,79.8 L356.1,79.0 L356.8,77.3 L357.5,76.2 L358.2,75.6 L358.9,74.0 L359.7,72.7 L360.4,71.5 L361.1,70.8 L362.3,69.5 L363.5,68.9 L364.9,67.8 L366.3,66.8 L367.6,65.7 L369.0,65.1 L370.3,64.7 L371.6,64.7 L372.6,65.8 L373.5,66.5 L375.1,67.1 L376.4,66.2 L377.7,65.3 L378.5,66.5 L379.2,67.6 L380.0,68.8 L380.7,70.0 L381.4,70.9 L382.1,72.9 L382.7,73.6 L383.3,75.1 L383.9,76.2 L384.5,77.7 L385.2,78.6 L385.9,80.1 L386.6,81.5 L387.3,82.8 L388.0,84.8 L388.6,85.9 L389.3,87.0 L390.0,88.4 L390.6,90.2 L391.3,91.1 L392.0,92.1 L392.6,93.9 L393.4,95.2 L394.2,97.0 L395.0,97.6 L396.0,99.4 L396.9,101.2 L397.9,102.6 L398.7,103.7 L399.4,104.0 L400.2,105.3 L401.0,106.2 L402.0,107.1 L402.9,108.8 L403.9,109.3 L404.9,110.6 L406.2,110.6 L407.5,111.6 L408.8,111.8 L410.1,112.2 L411.4,112.8 L412.7,112.8 L414.0,112.8 L534.5,112.8" fill="none" stroke="#ffbaba" stroke-width="1.3" stroke-linejoin="round"/>
<path d="M307.5,147.3 L308.0,146.3 L309.3,145.5 L310.7,145.5 L312.0,145.1 L313.3,144.3 L314.6,144.0 L316.0,143.3 L317.3,142.9 L318.6,142.5 L320.0,142.3 L321.4,141.8 L322.7,140.9 L324.0,140.3 L325.4,140.0 L326.8,139.8 L328.1,138.9 L329.5,138.5 L330.9,137.9 L332.2,137.9 L333.6,137.1 L334.7,136.0 L335.9,135.3 L337.0,134.9 L338.3,134.0 L339.5,133.1 L340.8,131.6 L341.9,130.4 L342.9,129.5 L344.0,127.9 L345.0,126.5 L345.9,125.2 L346.9,124.5 L347.9,122.6 L348.9,121.6 L350.0,120.1 L351.0,118.9 L352.0,118.2 L353.0,117.2 L354.0,115.6 L354.6,114.3 L355.2,113.6 L355.9,111.9 L356.5,110.6 L357.4,110.2 L358.3,108.6 L359.2,107.8 L360.0,106.2 L360.7,105.5 L361.5,104.0 L362.9,102.3 L364.3,100.9 L365.6,100.2 L367.0,99.1 L368.2,98.5 L369.4,96.9 L370.4,96.3 L371.5,94.9 L373.5,94.2 L375.0,95.7 L375.8,97.0 L376.5,98.3 L377.5,100.0 L378.5,100.6 L379.2,102.5 L379.9,104.2 L380.6,105.8 L381.1,106.5 L381.6,107.9 L382.0,110.0 L382.5,111.4 L382.9,112.3 L383.4,113.3 L383.8,115.4 L384.3,116.3 L384.7,118.1 L385.2,119.0 L385.6,120.4 L386.1,121.0 L386.6,122.8 L387.0,123.5 L387.5,124.9 L388.2,126.7 L388.8,128.1 L389.5,128.9 L390.1,130.3 L390.8,131.9 L391.6,133.3 L392.4,134.4 L393.2,135.4 L394.0,136.8 L395.0,138.6 L396.0,140.2 L397.0,140.8 L398.5,142.4 L400.0,143.7 L401.6,144.0 L403.1,145.6 L404.5,145.1 L405.8,145.7 L407.2,145.8 L408.6,146.1 L409.9,146.0 L411.3,146.2 L412.0,147.3 L534.5,147.3 Z" fill="rgb(255,67,76)" fill-opacity="0.42" stroke="none"/>
<path d="M307.5,147.3 L308.0,146.3 L309.3,145.5 L310.7,145.5 L312.0,145.1 L313.3,144.3 L314.6,144.0 L316.0,143.3 L317.3,142.9 L318.6,142.5 L320.0,142.3 L321.4,141.8 L322.7,140.9 L324.0,140.3 L325.4,140.0 L326.8,139.8 L328.1,138.9 L329.5,138.5 L330.9,137.9 L332.2,137.9 L333.6,137.1 L334.7,136.0 L335.9,135.3 L337.0,134.9 L338.3,134.0 L339.5,133.1 L340.8,131.6 L341.9,130.4 L342.9,129.5 L344.0,127.9 L345.0,126.5 L345.9,125.2 L346.9,124.5 L347.9,122.6 L348.9,121.6 L350.0,120.1 L351.0,118.9 L352.0,118.2 L353.0,117.2 L354.0,115.6 L354.6,114.3 L355.2,113.6 L355.9,111.9 L356.5,110.6 L357.4,110.2 L358.3,108.6 L359.2,107.8 L360.0,106.2 L360.7,105.5 L361.5,104.0 L362.9,102.3 L364.3,100.9 L365.6,100.2 L367.0,99.1 L368.2,98.5 L369.4,96.9 L370.4,96.3 L371.5,94.9 L373.5,94.2 L375.0,95.7 L375.8,97.0 L376.5,98.3 L377.5,100.0 L378.5,100.6 L379.2,102.5 L379.9,104.2 L380.6,105.8 L381.1,106.5 L381.6,107.9 L382.0,110.0 L382.5,111.4 L382.9,112.3 L383.4,113.3 L383.8,115.4 L384.3,116.3 L384.7,118.1 L385.2,119.0 L385.6,120.4 L386.1,121.0 L386.6,122.8 L387.0,123.5 L387.5,124.9 L388.2,126.7 L388.8,128.1 L389.5,128.9 L390.1,130.3 L390.8,131.9 L391.6,133.3 L392.4,134.4 L393.2,135.4 L394.0,136.8 L395.0,138.6 L396.0,140.2 L397.0,140.8 L398.5,142.4 L400.0,143.7 L401.6,144.0 L403.1,145.6 L404.5,145.1 L405.8,145.7 L407.2,145.8 L408.6,146.1 L409.9,146.0 L411.3,146.2 L412.0,147.3 L534.5,147.3" fill="none" stroke="#f84848" stroke-width="1.3" stroke-linejoin="round"/>
<path d="M307.5,182.0 L308.0,181.0 L309.3,180.2 L310.7,179.3 L312.0,178.6 L313.3,177.8 L314.6,177.2 L316.0,176.2 L317.3,176.1 L318.5,175.5 L319.8,174.8 L321.0,174.7 L322.5,174.2 L323.9,173.4 L325.4,172.6 L326.9,172.1 L328.5,170.9 L330.0,170.2 L331.4,169.8 L332.9,168.8 L334.3,168.4 L335.7,167.8 L336.5,166.3 L337.4,165.8 L338.2,164.2 L339.0,163.7 L339.9,162.5 L340.9,161.1 L341.9,159.4 L342.8,158.6 L343.6,157.3 L344.4,156.7 L345.2,154.8 L346.0,154.3 L346.8,153.3 L347.5,151.9 L348.2,150.8 L349.0,149.1 L350.2,148.4 L351.5,146.5 L352.8,145.8 L354.0,144.7 L355.0,142.7 L356.0,142.0 L357.0,140.9 L358.1,139.0 L359.1,138.1 L360.2,137.3 L361.6,135.7 L363.0,135.4 L364.1,133.8 L365.3,133.3 L366.1,131.4 L367.0,130.5 L368.4,129.3 L369.4,129.7 L370.5,130.8 L371.4,132.5 L372.4,133.8 L373.1,134.7 L373.8,136.0 L374.5,137.2 L375.2,139.1 L375.8,140.1 L376.5,141.6 L377.0,142.1 L377.5,143.9 L378.0,144.5 L378.5,146.0 L378.9,147.4 L379.3,148.4 L379.8,150.2 L380.2,151.2 L380.6,152.5 L381.2,154.1 L381.8,154.7 L382.3,156.8 L382.9,157.8 L383.5,158.9 L384.0,160.6 L384.6,161.4 L385.1,163.3 L385.6,164.2 L386.2,165.3 L386.7,166.9 L387.4,167.9 L388.0,168.9 L388.7,170.7 L389.3,171.3 L390.0,173.3 L390.7,174.0 L391.4,175.6 L392.2,177.2 L392.9,178.1 L394.4,179.1 L396.0,179.8 L397.5,180.1 L399.0,180.6 L400.4,181.0 L401.7,181.8 L403.1,182.0 L534.5,182.0 Z" fill="rgb(219,5,5)" fill-opacity="0.42" stroke="none"/>
<path d="M307.5,182.0 L308.0,181.0 L309.3,180.2 L310.7,179.3 L312.0,178.6 L313.3,177.8 L314.6,177.2 L316.0,176.2 L317.3,176.1 L318.5,175.5 L319.8,174.8 L321.0,174.7 L322.5,174.2 L323.9,173.4 L325.4,172.6 L326.9,172.1 L328.5,170.9 L330.0,170.2 L331.4,169.8 L332.9,168.8 L334.3,168.4 L335.7,167.8 L336.5,166.3 L337.4,165.8 L338.2,164.2 L339.0,163.7 L339.9,162.5 L340.9,161.1 L341.9,159.4 L342.8,158.6 L343.6,157.3 L344.4,156.7 L345.2,154.8 L346.0,154.3 L346.8,153.3 L347.5,151.9 L348.2,150.8 L349.0,149.1 L350.2,148.4 L351.5,146.5 L352.8,145.8 L354.0,144.7 L355.0,142.7 L356.0,142.0 L357.0,140.9 L358.1,139.0 L359.1,138.1 L360.2,137.3 L361.6,135.7 L363.0,135.4 L364.1,133.8 L365.3,133.3 L366.1,131.4 L367.0,130.5 L368.4,129.3 L369.4,129.7 L370.5,130.8 L371.4,132.5 L372.4,133.8 L373.1,134.7 L373.8,136.0 L374.5,137.2 L375.2,139.1 L375.8,140.1 L376.5,141.6 L377.0,142.1 L377.5,143.9 L378.0,144.5 L378.5,146.0 L378.9,147.4 L379.3,148.4 L379.8,150.2 L380.2,151.2 L380.6,152.5 L381.2,154.1 L381.8,154.7 L382.3,156.8 L382.9,157.8 L383.5,158.9 L384.0,160.6 L384.6,161.4 L385.1,163.3 L385.6,164.2 L386.2,165.3 L386.7,166.9 L387.4,167.9 L388.0,168.9 L388.7,170.7 L389.3,171.3 L390.0,173.3 L390.7,174.0 L391.4,175.6 L392.2,177.2 L392.9,178.1 L394.4,179.1 L396.0,179.8 L397.5,180.1 L399.0,180.6 L400.4,181.0 L401.7,181.8 L403.1,182.0 L534.5,182.0" fill="none" stroke="#d82020" stroke-width="1.3" stroke-linejoin="round"/>
<path d="M307.5,216.4 L308.0,215.6 L309.3,215.2 L310.7,214.9 L312.0,214.9 L313.3,213.8 L314.6,213.6 L316.0,213.7 L317.3,212.8 L318.6,212.5 L319.9,212.5 L321.2,211.9 L322.5,211.9 L324.0,211.4 L325.5,211.3 L327.0,210.9 L328.4,210.1 L329.9,210.0 L331.3,209.4 L332.5,208.4 L333.8,208.5 L335.0,207.3 L336.6,206.4 L338.3,205.5 L339.4,205.2 L340.4,204.5 L341.4,203.6 L342.5,202.4 L343.6,201.2 L344.8,199.8 L345.9,199.3 L347.0,198.1 L347.8,196.9 L348.7,196.1 L349.5,194.9 L350.4,194.4 L351.4,193.1 L352.3,191.7 L353.6,191.1 L355.0,189.1 L356.3,188.5 L357.6,187.4 L358.5,185.9 L359.3,184.4 L360.2,183.8 L360.9,181.9 L361.5,181.2 L362.1,180.4 L362.8,178.5 L363.6,176.9 L364.5,175.6 L365.4,174.5 L366.3,173.6 L367.4,172.3 L368.5,170.2 L369.2,169.2 L369.8,168.0 L370.5,166.6 L371.1,166.0 L371.7,164.6 L372.3,163.2 L373.2,161.2 L374.1,160.5 L375.3,161.6 L376.5,162.5 L377.6,164.1 L378.6,165.3 L379.2,166.6 L379.9,168.1 L380.5,169.8 L380.8,171.0 L381.1,172.7 L381.5,174.4 L381.8,175.8 L382.1,177.3 L382.9,178.5 L383.7,179.5 L384.5,181.0 L385.2,182.1 L385.9,183.7 L386.6,184.6 L387.3,185.6 L387.7,187.2 L388.1,188.8 L388.6,189.4 L389.0,191.3 L389.4,191.9 L389.9,193.4 L390.4,194.7 L390.8,196.5 L391.4,197.9 L391.9,199.0 L392.5,199.8 L393.4,202.0 L394.3,203.1 L395.0,204.2 L395.6,206.0 L396.3,206.9 L397.0,208.2 L397.9,209.5 L398.7,211.1 L399.6,212.0 L400.7,213.1 L401.9,213.7 L403.0,214.6 L404.8,214.7 L406.6,215.4 L408.1,215.4 L409.5,215.3 L411.0,215.3 L412.5,215.8 L413.9,215.4 L415.4,216.2 L416.0,216.4 L534.5,216.4 Z" fill="rgb(143,10,10)" fill-opacity="0.42" stroke="none"/>
<path d="M307.5,216.4 L308.0,215.6 L309.3,215.2 L310.7,214.9 L312.0,214.9 L313.3,213.8 L314.6,213.6 L316.0,213.7 L317.3,212.8 L318.6,212.5 L319.9,212.5 L321.2,211.9 L322.5,211.9 L324.0,211.4 L325.5,211.3 L327.0,210.9 L328.4,210.1 L329.9,210.0 L331.3,209.4 L332.5,208.4 L333.8,208.5 L335.0,207.3 L336.6,206.4 L338.3,205.5 L339.4,205.2 L340.4,204.5 L341.4,203.6 L342.5,202.4 L343.6,201.2 L344.8,199.8 L345.9,199.3 L347.0,198.1 L347.8,196.9 L348.7,196.1 L349.5,194.9 L350.4,194.4 L351.4,193.1 L352.3,191.7 L353.6,191.1 L355.0,189.1 L356.3,188.5 L357.6,187.4 L358.5,185.9 L359.3,184.4 L360.2,183.8 L360.9,181.9 L361.5,181.2 L362.1,180.4 L362.8,178.5 L363.6,176.9 L364.5,175.6 L365.4,174.5 L366.3,173.6 L367.4,172.3 L368.5,170.2 L369.2,169.2 L369.8,168.0 L370.5,166.6 L371.1,166.0 L371.7,164.6 L372.3,163.2 L373.2,161.2 L374.1,160.5 L375.3,161.6 L376.5,162.5 L377.6,164.1 L378.6,165.3 L379.2,166.6 L379.9,168.1 L380.5,169.8 L380.8,171.0 L381.1,172.7 L381.5,174.4 L381.8,175.8 L382.1,177.3 L382.9,178.5 L383.7,179.5 L384.5,181.0 L385.2,182.1 L385.9,183.7 L386.6,184.6 L387.3,185.6 L387.7,187.2 L388.1,188.8 L388.6,189.4 L389.0,191.3 L389.4,191.9 L389.9,193.4 L390.4,194.7 L390.8,196.5 L391.4,197.9 L391.9,199.0 L392.5,199.8 L393.4,202.0 L394.3,203.1 L395.0,204.2 L395.6,206.0 L396.3,206.9 L397.0,208.2 L397.9,209.5 L398.7,211.1 L399.6,212.0 L400.7,213.1 L401.9,213.7 L403.0,214.6 L404.8,214.7 L406.6,215.4 L408.1,215.4 L409.5,215.3 L411.0,215.3 L412.5,215.8 L413.9,215.4 L415.4,216.2 L416.0,216.4 L534.5,216.4" fill="none" stroke="#a42a2a" stroke-width="1.3" stroke-linejoin="round"/>
<path d="M307.5,250.1 L308.0,249.5 L309.3,248.3 L310.7,247.4 L312.0,246.6 L313.3,246.6 L314.6,245.4 L316.0,244.4 L317.3,243.6 L318.5,242.8 L319.8,242.5 L321.0,241.6 L322.5,240.8 L323.9,240.0 L325.4,238.5 L326.4,238.2 L327.5,237.2 L328.5,236.8 L329.5,235.9 L330.6,235.1 L331.6,233.4 L332.4,233.0 L333.2,232.0 L334.0,230.9 L334.9,228.8 L335.8,227.6 L336.7,226.3 L337.4,224.8 L338.1,224.1 L338.8,222.7 L339.5,221.1 L340.1,219.9 L340.6,218.3 L341.2,216.6 L341.8,215.0 L342.4,213.7 L342.9,212.9 L343.4,211.1 L344.0,209.8 L344.6,208.3 L345.3,206.4 L345.9,205.0 L346.6,203.8 L347.3,202.9 L348.0,201.4 L349.0,200.1 L350.0,199.4 L352.0,197.5 L354.0,197.3 L354.8,195.9 L355.7,194.2 L356.5,193.4 L357.5,192.1 L358.5,191.1 L359.5,192.1 L360.5,193.7 L361.4,195.3 L362.2,196.7 L362.7,198.6 L363.2,199.1 L363.8,201.0 L364.3,201.7 L364.8,202.9 L365.3,204.3 L365.8,206.1 L366.3,207.6 L366.9,208.0 L367.4,209.6 L367.9,210.8 L368.5,212.3 L369.0,213.1 L369.4,214.7 L369.9,215.9 L370.4,217.7 L370.8,218.6 L371.2,220.6 L371.7,221.5 L372.1,222.8 L372.5,224.7 L372.9,225.9 L373.3,227.0 L373.7,228.9 L374.1,229.9 L374.5,232.0 L375.0,233.2 L375.5,234.7 L376.0,235.9 L376.5,237.0 L377.0,238.4 L377.6,239.8 L378.3,241.6 L379.0,242.3 L379.6,244.3 L380.4,244.7 L381.2,246.1 L382.0,247.3 L383.4,248.6 L384.7,249.0 L386.0,250.1 L534.5,250.1 Z" fill="rgb(48,10,10)" fill-opacity="0.42" stroke="none"/>
<path d="M307.5,250.1 L308.0,249.5 L309.3,248.3 L310.7,247.4 L312.0,246.6 L313.3,246.6 L314.6,245.4 L316.0,244.4 L317.3,243.6 L318.5,242.8 L319.8,242.5 L321.0,241.6 L322.5,240.8 L323.9,240.0 L325.4,238.5 L326.4,238.2 L327.5,237.2 L328.5,236.8 L329.5,235.9 L330.6,235.1 L331.6,233.4 L332.4,233.0 L333.2,232.0 L334.0,230.9 L334.9,228.8 L335.8,227.6 L336.7,226.3 L337.4,224.8 L338.1,224.1 L338.8,222.7 L339.5,221.1 L340.1,219.9 L340.6,218.3 L341.2,216.6 L341.8,215.0 L342.4,213.7 L342.9,212.9 L343.4,211.1 L344.0,209.8 L344.6,208.3 L345.3,206.4 L345.9,205.0 L346.6,203.8 L347.3,202.9 L348.0,201.4 L349.0,200.1 L350.0,199.4 L352.0,197.5 L354.0,197.3 L354.8,195.9 L355.7,194.2 L356.5,193.4 L357.5,192.1 L358.5,191.1 L359.5,192.1 L360.5,193.7 L361.4,195.3 L362.2,196.7 L362.7,198.6 L363.2,199.1 L363.8,201.0 L364.3,201.7 L364.8,202.9 L365.3,204.3 L365.8,206.1 L366.3,207.6 L366.9,208.0 L367.4,209.6 L367.9,210.8 L368.5,212.3 L369.0,213.1 L369.4,214.7 L369.9,215.9 L370.4,217.7 L370.8,218.6 L371.2,220.6 L371.7,221.5 L372.1,222.8 L372.5,224.7 L372.9,225.9 L373.3,227.0 L373.7,228.9 L374.1,229.9 L374.5,232.0 L375.0,233.2 L375.5,234.7 L376.0,235.9 L376.5,237.0 L377.0,238.4 L377.6,239.8 L378.3,241.6 L379.0,242.3 L379.6,244.3 L380.4,244.7 L381.2,246.1 L382.0,247.3 L383.4,248.6 L384.7,249.0 L386.0,250.1 L534.5,250.1" fill="none" stroke="#552424" stroke-width="1.3" stroke-linejoin="round"/>
<rect x="307.5" y="4.5" width="227.0" height="246.5" fill="none" stroke="#4a4a4a" stroke-width="1.4"/>
<line x1="324.8" y1="251" x2="324.8" y2="254.4" stroke="#2a2a2a" stroke-width="1.15"/>
<line x1="334.7" y1="251" x2="334.7" y2="254.4" stroke="#2a2a2a" stroke-width="1.15"/>
<line x1="341.7" y1="251" x2="341.7" y2="254.4" stroke="#2a2a2a" stroke-width="1.15"/>
<line x1="347.2" y1="251" x2="347.2" y2="254.4" stroke="#2a2a2a" stroke-width="1.15"/>
<line x1="351.7" y1="251" x2="351.7" y2="254.4" stroke="#2a2a2a" stroke-width="1.15"/>
<line x1="355.4" y1="251" x2="355.4" y2="254.4" stroke="#2a2a2a" stroke-width="1.15"/>
<line x1="358.7" y1="251" x2="358.7" y2="254.4" stroke="#2a2a2a" stroke-width="1.15"/>
<line x1="361.6" y1="251" x2="361.6" y2="254.4" stroke="#2a2a2a" stroke-width="1.15"/>
<line x1="381.1" y1="251" x2="381.1" y2="254.4" stroke="#2a2a2a" stroke-width="1.15"/>
<line x1="391.1" y1="251" x2="391.1" y2="254.4" stroke="#2a2a2a" stroke-width="1.15"/>
<line x1="398.1" y1="251" x2="398.1" y2="254.4" stroke="#2a2a2a" stroke-width="1.15"/>
<line x1="403.6" y1="251" x2="403.6" y2="254.4" stroke="#2a2a2a" stroke-width="1.15"/>
<line x1="408.0" y1="251" x2="408.0" y2="254.4" stroke="#2a2a2a" stroke-width="1.15"/>
<line x1="411.8" y1="251" x2="411.8" y2="254.4" stroke="#2a2a2a" stroke-width="1.15"/>
<line x1="415.1" y1="251" x2="415.1" y2="254.4" stroke="#2a2a2a" stroke-width="1.15"/>
<line x1="418.0" y1="251" x2="418.0" y2="254.4" stroke="#2a2a2a" stroke-width="1.15"/>
<line x1="437.5" y1="251" x2="437.5" y2="254.4" stroke="#2a2a2a" stroke-width="1.15"/>
<line x1="447.4" y1="251" x2="447.4" y2="254.4" stroke="#2a2a2a" stroke-width="1.15"/>
<line x1="454.5" y1="251" x2="454.5" y2="254.4" stroke="#2a2a2a" stroke-width="1.15"/>
<line x1="460.0" y1="251" x2="460.0" y2="254.4" stroke="#2a2a2a" stroke-width="1.15"/>
<line x1="464.4" y1="251" x2="464.4" y2="254.4" stroke="#2a2a2a" stroke-width="1.15"/>
<line x1="468.2" y1="251" x2="468.2" y2="254.4" stroke="#2a2a2a" stroke-width="1.15"/>
<line x1="471.5" y1="251" x2="471.5" y2="254.4" stroke="#2a2a2a" stroke-width="1.15"/>
<line x1="474.3" y1="251" x2="474.3" y2="254.4" stroke="#2a2a2a" stroke-width="1.15"/>
<line x1="493.9" y1="251" x2="493.9" y2="254.4" stroke="#2a2a2a" stroke-width="1.15"/>
<line x1="503.8" y1="251" x2="503.8" y2="254.4" stroke="#2a2a2a" stroke-width="1.15"/>
<line x1="510.9" y1="251" x2="510.9" y2="254.4" stroke="#2a2a2a" stroke-width="1.15"/>
<line x1="516.3" y1="251" x2="516.3" y2="254.4" stroke="#2a2a2a" stroke-width="1.15"/>
<line x1="520.8" y1="251" x2="520.8" y2="254.4" stroke="#2a2a2a" stroke-width="1.15"/>
<line x1="524.6" y1="251" x2="524.6" y2="254.4" stroke="#2a2a2a" stroke-width="1.15"/>
<line x1="527.8" y1="251" x2="527.8" y2="254.4" stroke="#2a2a2a" stroke-width="1.15"/>
<line x1="530.7" y1="251" x2="530.7" y2="254.4" stroke="#2a2a2a" stroke-width="1.15"/>
<line x1="307.8" y1="251" x2="307.8" y2="257.3" stroke="#111" stroke-width="1.9"/>
<line x1="364.2" y1="251" x2="364.2" y2="257.3" stroke="#111" stroke-width="1.9"/>
<line x1="420.5" y1="251" x2="420.5" y2="257.3" stroke="#111" stroke-width="1.9"/>
<line x1="476.9" y1="251" x2="476.9" y2="257.3" stroke="#111" stroke-width="1.9"/>
<line x1="533.3" y1="251" x2="533.3" y2="257.3" stroke="#111" stroke-width="1.9"/>
<g transform="translate(311.3,272.2) scale(0.70,1)" fill="#4a4a4a" font-family="Liberation Sans" font-weight="bold" font-size="10"><text x="0" y="0">10</text><text x="10.6" y="-5.8" font-size="9.3">0</text></g>
<g transform="translate(364.2,272.2) scale(0.70,1)" fill="#4a4a4a" font-family="Liberation Sans" font-weight="bold" font-size="10"><text x="0" y="0">10</text><text x="10.6" y="-5.8" font-size="9.3">1</text></g>
<g transform="translate(420.6,272.2) scale(0.70,1)" fill="#4a4a4a" font-family="Liberation Sans" font-weight="bold" font-size="10"><text x="0" y="0">10</text><text x="10.6" y="-5.8" font-size="9.3">2</text></g>
<g transform="translate(477.5,272.2) scale(0.70,1)" fill="#4a4a4a" font-family="Liberation Sans" font-weight="bold" font-size="10"><text x="0" y="0">10</text><text x="10.6" y="-5.8" font-size="9.3">3</text></g>
<g transform="translate(521.8,272.2) scale(0.70,1)" fill="#4a4a4a" font-family="Liberation Sans" font-weight="bold" font-size="10"><text x="0" y="0">10</text><text x="10.6" y="-5.8" font-size="9.3">4</text></g>
<text x="532.1" y="23.6" text-anchor="end" font-family="Liberation Sans" font-weight="bold" font-size="21.5">3h</text>
<line x1="139.5" y1="5.5" x2="139.5" y2="251" stroke="#000" stroke-width="1.6" stroke-dasharray="1.6 1.85"/>
<line x1="371.4" y1="5.5" x2="371.4" y2="251" stroke="#000" stroke-width="1.6" stroke-dasharray="1.6 1.85"/>
<path d="M62,279.5 L63.3,14" stroke="#000" stroke-width="2.8" fill="none"/>
<path d="M63.4,-0.5 L57.0,15.8 L63.4,13.2 L69.2,15.7 Z" fill="#000"/>
<path d="M60.6,278.3 L523,280.3" stroke="#000" stroke-width="2.9" fill="none"/>
<path d="M539.5,280.4 L521.3,273.8 L521.3,287 Z" fill="#000"/>
<text transform="translate(57.6,126.4) rotate(-90) scale(1,1.07)" font-family="Liberation Sans" font-weight="bold" font-size="17.9">Cell number</text>
<text x="437.8" y="301.8" font-family="Liberation Sans" font-weight="bold" font-size="17" letter-spacing="0.35">H<tspan font-size="12.5" dy="3.5">2</tspan><tspan dy="-3.5">DCFDA</tspan></text>
<text x="0.4" y="27.3" font-family="Liberation Sans" font-size="36.5" stroke="#000" stroke-width="0.5">A</text>
<rect x="556.6" y="68.4" width="11.8" height="10.6" fill="rgb(255,219,219)" fill-opacity="0.42" stroke="#ffdada" stroke-width="1.5"/>
<text x="573.6" y="80.2" font-family="Liberation Sans" font-weight="bold" font-size="17" letter-spacing="0.33">IDA 4 µg/ml</text>
<rect x="556.6" y="88.5" width="11.8" height="10.6" fill="rgb(255,172,172)" fill-opacity="0.42" stroke="#ffbaba" stroke-width="1.5"/>
<text x="573.6" y="100.3" font-family="Liberation Sans" font-weight="bold" font-size="17" letter-spacing="0.33">IDA 2 µg/ml</text>
<rect x="556.6" y="108.6" width="11.8" height="10.6" fill="rgb(255,67,76)" fill-opacity="0.42" stroke="#f84848" stroke-width="1.5"/>
<text x="573.6" y="120.4" font-family="Liberation Sans" font-weight="bold" font-size="17" letter-spacing="0.33">IDA 1 µg/ml</text>
<rect x="556.6" y="128.7" width="11.8" height="10.6" fill="rgb(219,5,5)" fill-opacity="0.42" stroke="#d82020" stroke-width="1.5"/>
<text x="573.6" y="140.5" font-family="Liberation Sans" font-weight="bold" font-size="17" letter-spacing="0.33">IDA 0.5 µg/ml</text>
<rect x="556.6" y="148.8" width="11.8" height="10.6" fill="rgb(143,10,10)" fill-opacity="0.42" stroke="#a42a2a" stroke-width="1.5"/>
<text x="574" y="160.6" font-family="Liberation Sans" font-weight="bold" font-size="17" letter-spacing="0.3">H<tspan font-size="16" dy="3.5">2</tspan><tspan dy="-3.5">O</tspan><tspan font-size="16" dy="3.5">2</tspan></text>
<rect x="556.6" y="168.9" width="11.8" height="10.6" fill="rgb(48,10,10)" fill-opacity="0.42" stroke="#552424" stroke-width="1.5"/>
<text x="573.6" y="180.7" font-family="Liberation Sans" font-weight="bold" font-size="17" letter-spacing="0.33">DMSO</text>
<text x="-0.1" y="349.6" font-family="Liberation Sans" font-size="36.5" stroke="#000" stroke-width="0.5">B</text>
<line x1="80.8" y1="383.7" x2="80.8" y2="600.3" stroke="#000" stroke-width="2.8"/>
<line x1="70.5" y1="598.8" x2="81" y2="598.8" stroke="#000" stroke-width="2.8"/>
<text x="68.3" y="604.4" text-anchor="end" font-family="Liberation Sans" font-weight="bold" font-size="15.8">0</text>
<line x1="70.5" y1="527.6" x2="81" y2="527.6" stroke="#000" stroke-width="2.8"/>
<text x="68.3" y="533.2" text-anchor="end" font-family="Liberation Sans" font-weight="bold" font-size="15.8">20</text>
<line x1="70.5" y1="456.4" x2="81" y2="456.4" stroke="#000" stroke-width="2.8"/>
<text x="68.3" y="462.0" text-anchor="end" font-family="Liberation Sans" font-weight="bold" font-size="15.8">40</text>
<line x1="70.5" y1="385.2" x2="81" y2="385.2" stroke="#000" stroke-width="2.8"/>
<text x="68.3" y="390.8" text-anchor="end" font-family="Liberation Sans" font-weight="bold" font-size="15.8">60</text>
<line x1="70.5" y1="598.8" x2="575.2" y2="598.8" stroke="#000" stroke-width="2.8"/>
<text transform="translate(40.0,493.8) rotate(-90)" text-anchor="middle" font-family="Liberation Sans" font-weight="bold" font-size="17.6" letter-spacing="0.15">ROS positive cells[%]</text>
<rect x="98.2" y="582.6" width="28.6" height="16.2" fill="#a00000" stroke="#000" stroke-width="3.2"/>
<line x1="112.5" y1="580.2" x2="112.5" y2="583.0" stroke="#1a1a1a" stroke-width="1.4"/>
<line x1="104.5" y1="580.2" x2="120.5" y2="580.2" stroke="#1a1a1a" stroke-width="1.4"/>
<line x1="112.5" y1="598.8" x2="112.5" y2="608.3" stroke="#000" stroke-width="2.8"/>
<rect x="134.3" y="557.2" width="28.6" height="41.6" fill="#ff0000" stroke="#000" stroke-width="3.2"/>
<line x1="148.6" y1="550.3" x2="148.6" y2="561.0" stroke="#1a1a1a" stroke-width="1.4"/>
<line x1="140.6" y1="550.3" x2="156.6" y2="550.3" stroke="#1a1a1a" stroke-width="1.4"/>
<line x1="140.6" y1="561.0" x2="156.6" y2="561.0" stroke="#000" stroke-opacity="0.5" stroke-width="1.6"/>
<line x1="148.6" y1="598.8" x2="148.6" y2="608.3" stroke="#000" stroke-width="2.8"/>
<rect x="170.3" y="566.5" width="28.6" height="32.3" fill="#f84444" stroke="#000" stroke-width="3.2"/>
<line x1="184.6" y1="560.3" x2="184.6" y2="568.8" stroke="#1a1a1a" stroke-width="1.4"/>
<line x1="176.6" y1="560.3" x2="192.6" y2="560.3" stroke="#1a1a1a" stroke-width="1.4"/>
<line x1="176.6" y1="568.8" x2="192.6" y2="568.8" stroke="#000" stroke-opacity="0.5" stroke-width="1.6"/>
<line x1="184.6" y1="598.8" x2="184.6" y2="608.3" stroke="#000" stroke-width="2.8"/>
<rect x="206.0" y="559.0" width="28.6" height="39.8" fill="#ff7e7e" stroke="#000" stroke-width="3.2"/>
<line x1="220.3" y1="554.2" x2="220.3" y2="559.5" stroke="#1a1a1a" stroke-width="1.4"/>
<line x1="212.3" y1="554.2" x2="228.3" y2="554.2" stroke="#1a1a1a" stroke-width="1.4"/>
<line x1="212.3" y1="559.5" x2="228.3" y2="559.5" stroke="#000" stroke-opacity="0.5" stroke-width="1.6"/>
<line x1="220.3" y1="598.8" x2="220.3" y2="608.3" stroke="#000" stroke-width="2.8"/>
<rect x="242.0" y="556.5" width="28.6" height="42.3" fill="#ffa2a2" stroke="#000" stroke-width="3.2"/>
<line x1="256.3" y1="551.0" x2="256.3" y2="557.5" stroke="#1a1a1a" stroke-width="1.4"/>
<line x1="248.3" y1="551.0" x2="264.3" y2="551.0" stroke="#1a1a1a" stroke-width="1.4"/>
<line x1="248.3" y1="557.5" x2="264.3" y2="557.5" stroke="#000" stroke-opacity="0.5" stroke-width="1.6"/>
<line x1="256.3" y1="598.8" x2="256.3" y2="608.3" stroke="#000" stroke-width="2.8"/>
<rect x="277.7" y="487.6" width="28.6" height="111.2" fill="#ffdfe0" stroke="#000" stroke-width="3.2"/>
<line x1="292.0" y1="479.5" x2="292.0" y2="490.5" stroke="#1a1a1a" stroke-width="1.4"/>
<line x1="284.0" y1="479.5" x2="300.0" y2="479.5" stroke="#1a1a1a" stroke-width="1.4"/>
<line x1="284.0" y1="490.5" x2="300.0" y2="490.5" stroke="#000" stroke-opacity="0.5" stroke-width="1.6"/>
<line x1="292.0" y1="598.8" x2="292.0" y2="608.3" stroke="#000" stroke-width="2.8"/>
<rect x="346.6" y="581.2" width="28.6" height="17.6" fill="#a00000" stroke="#000" stroke-width="3.2"/>
<line x1="360.9" y1="578.8" x2="360.9" y2="581.6" stroke="#1a1a1a" stroke-width="1.4"/>
<line x1="352.9" y1="578.8" x2="368.9" y2="578.8" stroke="#1a1a1a" stroke-width="1.4"/>
<line x1="360.9" y1="598.8" x2="360.9" y2="608.3" stroke="#000" stroke-width="2.8"/>
<rect x="382.6" y="473.6" width="28.6" height="125.2" fill="#ff0000" stroke="#000" stroke-width="3.2"/>
<line x1="396.9" y1="467.5" x2="396.9" y2="474.5" stroke="#1a1a1a" stroke-width="1.4"/>
<line x1="388.9" y1="467.5" x2="404.9" y2="467.5" stroke="#1a1a1a" stroke-width="1.4"/>
<line x1="388.9" y1="474.5" x2="404.9" y2="474.5" stroke="#000" stroke-opacity="0.5" stroke-width="1.6"/>
<line x1="396.9" y1="598.8" x2="396.9" y2="608.3" stroke="#000" stroke-width="2.8"/>
<rect x="418.5" y="541.1" width="28.6" height="57.7" fill="#f84444" stroke="#000" stroke-width="3.2"/>
<line x1="432.8" y1="523.7" x2="432.8" y2="553.9" stroke="#1a1a1a" stroke-width="1.4"/>
<line x1="424.8" y1="523.7" x2="440.8" y2="523.7" stroke="#1a1a1a" stroke-width="1.4"/>
<line x1="424.8" y1="553.9" x2="440.8" y2="553.9" stroke="#000" stroke-opacity="0.5" stroke-width="1.6"/>
<line x1="432.8" y1="598.8" x2="432.8" y2="608.3" stroke="#000" stroke-width="2.8"/>
<rect x="454.5" y="500.3" width="28.6" height="98.5" fill="#ff7e7e" stroke="#000" stroke-width="3.2"/>
<line x1="468.8" y1="488.4" x2="468.8" y2="507.3" stroke="#1a1a1a" stroke-width="1.4"/>
<line x1="460.8" y1="488.4" x2="476.8" y2="488.4" stroke="#1a1a1a" stroke-width="1.4"/>
<line x1="460.8" y1="507.3" x2="476.8" y2="507.3" stroke="#000" stroke-opacity="0.5" stroke-width="1.6"/>
<line x1="468.8" y1="598.8" x2="468.8" y2="608.3" stroke="#000" stroke-width="2.8"/>
<rect x="490.4" y="482.6" width="28.6" height="116.2" fill="#ffa2a2" stroke="#000" stroke-width="3.2"/>
<line x1="504.7" y1="466.6" x2="504.7" y2="493.9" stroke="#1a1a1a" stroke-width="1.4"/>
<line x1="496.7" y1="466.6" x2="512.7" y2="466.6" stroke="#1a1a1a" stroke-width="1.4"/>
<line x1="496.7" y1="493.9" x2="512.7" y2="493.9" stroke="#000" stroke-opacity="0.5" stroke-width="1.6"/>
<line x1="504.7" y1="598.8" x2="504.7" y2="608.3" stroke="#000" stroke-width="2.8"/>
<rect x="526.3" y="420.8" width="28.6" height="178.0" fill="#ffdfe0" stroke="#000" stroke-width="3.2"/>
<line x1="540.6" y1="410.5" x2="540.6" y2="425.5" stroke="#1a1a1a" stroke-width="1.4"/>
<line x1="532.6" y1="410.5" x2="548.6" y2="410.5" stroke="#1a1a1a" stroke-width="1.4"/>
<line x1="532.6" y1="425.5" x2="548.6" y2="425.5" stroke="#000" stroke-opacity="0.5" stroke-width="1.6"/>
<line x1="540.6" y1="598.8" x2="540.6" y2="608.3" stroke="#000" stroke-width="2.8"/>
<path d="M113.0,571.5 L113.0,448.6 L291.3,448.6 L291.3,468.1" stroke="#000" stroke-width="2.05" fill="none"/>
<path d="M182.30,429.40 L182.30,438.80 M178.23,431.75 L186.37,436.45 M186.37,431.75 L178.23,436.45" stroke="#000" stroke-width="2.2" fill="none"/>
<path d="M194.80,429.40 L194.80,438.80 M190.73,431.75 L198.87,436.45 M198.87,431.75 L190.73,436.45" stroke="#000" stroke-width="2.2" fill="none"/>
<path d="M207.30,429.40 L207.30,438.80 M203.23,431.75 L211.37,436.45 M211.37,431.75 L203.23,436.45" stroke="#000" stroke-width="2.2" fill="none"/>
<path d="M219.80,429.40 L219.80,438.80 M215.73,431.75 L223.87,436.45 M223.87,431.75 L215.73,436.45" stroke="#000" stroke-width="2.2" fill="none"/>
<path d="M361.1,573.4 L361.1,451.5 L397.2,451.5 L397.2,463.4" stroke="#000" stroke-width="2.3" fill="none"/>
<path d="M363.10,434.10 L363.10,443.50 M359.03,436.45 L367.17,441.15 M367.17,436.45 L359.03,441.15" stroke="#000" stroke-width="2.2" fill="none"/>
<path d="M375.60,434.10 L375.60,443.50 M371.53,436.45 L379.67,441.15 M379.67,436.45 L371.53,441.15" stroke="#000" stroke-width="2.2" fill="none"/>
<path d="M388.10,434.10 L388.10,443.50 M384.03,436.45 L392.17,441.15 M392.17,436.45 L384.03,441.15" stroke="#000" stroke-width="2.2" fill="none"/>
<path d="M400.60,434.10 L400.60,443.50 M396.53,436.45 L404.67,441.15 M404.67,436.45 L396.53,441.15" stroke="#000" stroke-width="2.2" fill="none"/>
<path d="M361.1,433.0 L361.1,420.8 L432.8,420.8 L432.8,510.9" stroke="#000" stroke-width="2.3" fill="none"/>
<path d="M392.10,403.20 L392.10,412.60 M388.03,405.55 L396.17,410.25 M396.17,405.55 L388.03,410.25" stroke="#000" stroke-width="2.2" fill="none"/>
<path d="M404.60,403.20 L404.60,412.60 M400.53,405.55 L408.67,410.25 M408.67,405.55 L400.53,410.25" stroke="#000" stroke-width="2.2" fill="none"/>
<path d="M361.1,417.4 L361.1,394.1 L468.8,394.1 L468.8,478.8" stroke="#000" stroke-width="2.3" fill="none"/>
<path d="M399.80,375.90 L399.80,385.30 M395.73,378.25 L403.87,382.95 M403.87,378.25 L395.73,382.95" stroke="#000" stroke-width="2.2" fill="none"/>
<path d="M412.30,375.90 L412.30,385.30 M408.23,378.25 L416.37,382.95 M416.37,378.25 L408.23,382.95" stroke="#000" stroke-width="2.2" fill="none"/>
<path d="M424.80,375.90 L424.80,385.30 M420.73,378.25 L428.87,382.95 M428.87,378.25 L420.73,382.95" stroke="#000" stroke-width="2.2" fill="none"/>
<path d="M437.30,375.90 L437.30,385.30 M433.23,378.25 L441.37,382.95 M441.37,378.25 L433.23,382.95" stroke="#000" stroke-width="2.2" fill="none"/>
<path d="M361.1,388.0 L361.1,366.2 L504.7,366.2 L504.7,461.7" stroke="#000" stroke-width="2.3" fill="none"/>
<path d="M417.80,348.60 L417.80,358.00 M413.73,350.95 L421.87,355.65 M421.87,350.95 L413.73,355.65" stroke="#000" stroke-width="2.2" fill="none"/>
<path d="M430.30,348.60 L430.30,358.00 M426.23,350.95 L434.37,355.65 M434.37,350.95 L426.23,355.65" stroke="#000" stroke-width="2.2" fill="none"/>
<path d="M442.80,348.60 L442.80,358.00 M438.73,350.95 L446.87,355.65 M446.87,350.95 L438.73,355.65" stroke="#000" stroke-width="2.2" fill="none"/>
<path d="M455.30,348.60 L455.30,358.00 M451.23,350.95 L459.37,355.65 M459.37,350.95 L451.23,355.65" stroke="#000" stroke-width="2.2" fill="none"/>
<path d="M361.1,361.4 L361.1,338.3 L541.0,338.3 L541.0,401.5" stroke="#000" stroke-width="2.3" fill="none"/>
<path d="M435.50,320.50 L435.50,329.90 M431.43,322.85 L439.57,327.55 M439.57,322.85 L431.43,327.55" stroke="#000" stroke-width="2.2" fill="none"/>
<path d="M448.00,320.50 L448.00,329.90 M443.93,322.85 L452.07,327.55 M452.07,322.85 L443.93,327.55" stroke="#000" stroke-width="2.2" fill="none"/>
<path d="M460.50,320.50 L460.50,329.90 M456.43,322.85 L464.57,327.55 M464.57,322.85 L456.43,327.55" stroke="#000" stroke-width="2.2" fill="none"/>
<path d="M473.00,320.50 L473.00,329.90 M468.93,322.85 L477.07,327.55 M477.07,322.85 L468.93,327.55" stroke="#000" stroke-width="2.2" fill="none"/>
<text transform="translate(117.5,623.2) rotate(-45)" text-anchor="end" font-family="Liberation Sans" font-weight="bold" font-size="16.6">DMSO</text>
<text transform="translate(153.6,623.2) rotate(-45)" text-anchor="end" font-family="Liberation Sans" font-weight="bold" font-size="16.6">H<tspan font-weight="normal" font-size="12" dy="2.5">2</tspan><tspan font-weight="normal" dy="-2.5" stroke="#000" stroke-width="0.45">O</tspan><tspan font-weight="normal" font-size="12" dy="2.5">2</tspan></text>
<text transform="translate(189.6,623.2) rotate(-45)" text-anchor="end" font-family="Liberation Sans" font-weight="bold" font-size="16.6">IDA 0.5 <tspan font-weight="normal">µ</tspan>g/ml</text>
<text transform="translate(225.3,623.2) rotate(-45)" text-anchor="end" font-family="Liberation Sans" font-weight="bold" font-size="16.6">IDA 1 <tspan font-weight="normal">µ</tspan>g/ml</text>
<text transform="translate(261.3,623.2) rotate(-45)" text-anchor="end" font-family="Liberation Sans" font-weight="bold" font-size="16.6">IDA 2 <tspan font-weight="normal">µ</tspan>g/ml</text>
<text transform="translate(297.0,623.2) rotate(-45)" text-anchor="end" font-family="Liberation Sans" font-weight="bold" font-size="16.6">IDA 4 <tspan font-weight="normal">µ</tspan>g/ml</text>
<text transform="translate(365.9,623.2) rotate(-45)" text-anchor="end" font-family="Liberation Sans" font-weight="bold" font-size="16.6">DMSO</text>
<text transform="translate(401.9,623.2) rotate(-45)" text-anchor="end" font-family="Liberation Sans" font-weight="bold" font-size="16.6">H<tspan font-weight="normal" font-size="12" dy="2.5">2</tspan><tspan font-weight="normal" dy="-2.5" stroke="#000" stroke-width="0.45">O</tspan><tspan font-weight="normal" font-size="12" dy="2.5">2</tspan></text>
<text transform="translate(437.8,623.2) rotate(-45)" text-anchor="end" font-family="Liberation Sans" font-weight="bold" font-size="16.6">IDA 0.5 <tspan font-weight="normal">µ</tspan>g/ml</text>
<text transform="translate(473.8,623.2) rotate(-45)" text-anchor="end" font-family="Liberation Sans" font-weight="bold" font-size="16.6">IDA 1 <tspan font-weight="normal">µ</tspan>g/ml</text>
<text transform="translate(509.7,623.2) rotate(-45)" text-anchor="end" font-family="Liberation Sans" font-weight="bold" font-size="16.6">IDA 2 <tspan font-weight="normal">µ</tspan>g/ml</text>
<text transform="translate(545.6,623.2) rotate(-45)" text-anchor="end" font-family="Liberation Sans" font-weight="bold" font-size="16.6">IDA 4 <tspan font-weight="normal">µ</tspan>g/ml</text>
<line x1="97.5" y1="715.6" x2="301.4" y2="715.6" stroke="#000" stroke-width="3.6"/>
<line x1="344.7" y1="715.6" x2="549.7" y2="715.6" stroke="#000" stroke-width="3.6"/>
<text transform="translate(199.6,740.6) scale(0.82,1)" text-anchor="middle" font-family="Liberation Sans" font-weight="bold" font-size="24">1h</text>
<text transform="translate(447.3,740.6) scale(0.82,1)" text-anchor="middle" font-family="Liberation Sans" font-weight="bold" font-size="24">3h</text>
</svg>
</body></html>
